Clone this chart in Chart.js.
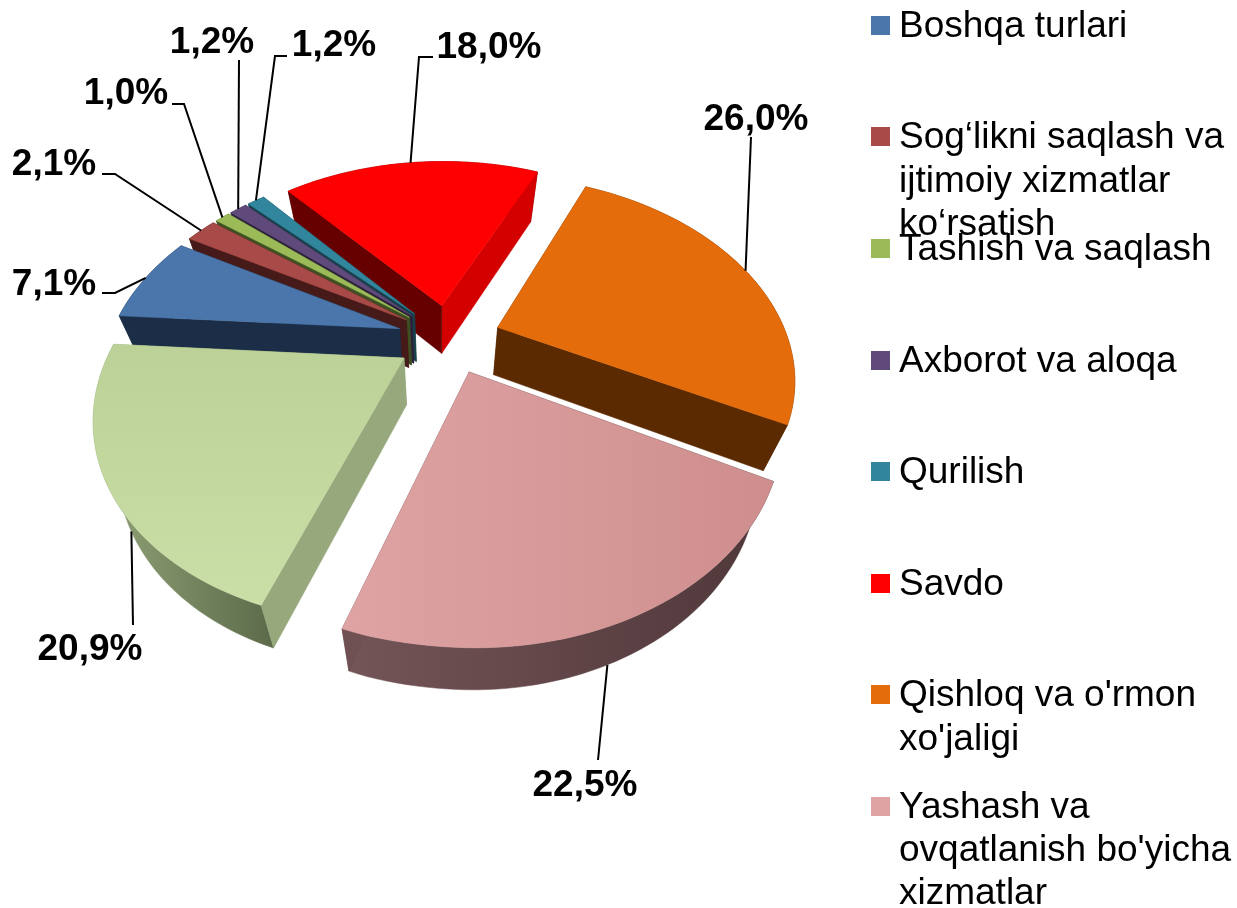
<!DOCTYPE html>
<html><head><meta charset="utf-8">
<style>html,body{margin:0;padding:0;background:#fff}#w{width:1237px;height:908px;position:relative}</style>
<script src="https://cdn.jsdelivr.net/npm/chart.js@4/dist/chart.umd.js"></script>
</head><body><div id="w"><canvas id="c"></canvas></div>
<script>
// ---- data ----
const categories = ["Boshqa turlari","Sog‘likni saqlash va ijtimoiy xizmatlar ko‘rsatish","Tashish va saqlash","Axborot va aloqa","Qurilish","Savdo","Qishloq va o'rmon xo'jaligi","Yashash va ovqatlanish bo'yicha xizmatlar",""];
const shares = [7.1,2.1,1.0,1.2,1.2,18.0,26.0,22.5,20.9];
// ---- styles ----
const explode = [75,75,75,75,75,75,75,75,75];
const topColors = ["#4a76ab","#a84a47","#9bbb59","#604a7b","#31859c","#ff0000","#e46c0a",["#dfa3a3","#cf8e8e"],["#bbd197","#cadfa7","v"]];
const startWall = ["#1c2e47","#451a18","#3e4f23","#2b2139","#17404b","#660000","#5c2a00","#533a3c","#97a97c"];
const endWall   = ["#1c2e47","#451a18","#3e4f23","#2b2139","#17404b","#d40000","#5c2a00","#6f5154","#97a97c"];
const outerWall = ["#1c2e47","#451a18","#3e4f23","#2b2139","#17404b","#660000","#5c2a00",["#745558","#4f3739"],["#93a578","#5c6a4a"]];
const legendLines = [["Boshqa turlari"],["Sog‘likni saqlash va","ijtimoiy xizmatlar","ko‘rsatish"],["Tashish va saqlash"],["Axborot va aloqa"],["Qurilish"],["Savdo"],["Qishloq va o'rmon","xo'jaligi"],["Yashash va","ovqatlanish bo'yicha","xizmatlar"]];
const legendBase = [[37],[148,192,235],[260],[372],[483],[595],[706,750],[818,861,904]];
const labelPos = [[54,295],[54,175],[126,104],[212,53],[334,56],[489,58],[756,130],[585,796],[90,660]];
const leaderElbow = [[[115,293],[102,293]],[[115,174],[102,174]],[[184,104],[172,104]],[[239,60]],[[275,56],[287,56]],[[419,57],[433,57]],[[751,137]],[[598,760]],[[133,625]]];

// perspective of the pie plane
const P = {cx:449, cy:338.5, a:290, b:192, p:.236, skew:6};
const project = (x,y)=>{const w=1-P.p*y;
  const sk=(x<0&&y>0)?P.skew*y*Math.min(1,-x/.2):0;
  return [P.cx+P.a*x/w-sk, P.cy+P.b*y/w];};
const drop = ([X,Y])=>[440+.93*(X-440), Y+53-.017*Y];

function geom(arc){
  const R=arc.outerRadius, off=arc.options.offset/R, s=arc.startAngle, e=arc.endAngle, m=(s+e)/2;
  const ox=Math.cos(m)*off, oy=Math.sin(m)*off;
  const pts=[]; const n=Math.max(2,Math.ceil((e-s)/(Math.PI/120)));
  for(let i=0;i<=n;i++){const t=s+(e-s)*i/n;pts.push(project(ox+Math.cos(t),oy+Math.sin(t)));}
  return {apex:project(ox,oy),pts,mid:project(ox+Math.cos(m),oy+Math.sin(m)),depth:oy+Math.sin(m)};
}
function poly(ctx,pts,fill){
  ctx.beginPath();pts.forEach((p,i)=>i?ctx.lineTo(p[0],p[1]):ctx.moveTo(p[0],p[1]));ctx.closePath();
  ctx.fillStyle=fill;ctx.fill();ctx.strokeStyle=fill;ctx.lineWidth=.5;ctx.stroke();
}
function paint(ctx,c,pts){
  if(!Array.isArray(c))return c;
  const vert=c[2]==='v';
  const vs=pts.map(p=>vert?p[1]:p[0]),v0=Math.min(...vs),v1=Math.max(...vs);
  const g=vert?ctx.createLinearGradient(0,v0,0,v1):ctx.createLinearGradient(v0,0,v1,0);
  g.addColorStop(0,c[0]);g.addColorStop(1,c[1]);return g;
}
const pie3d={id:'pie3d',
  beforeDatasetDraw(chart){
    const ctx=chart.ctx,arcs=chart.getDatasetMeta(0).data;
    const items=arcs.map((a,i)=>({i,g:geom(a)})).sort((u,v)=>u.g.depth-v.g.depth);
    items.forEach(({i,g})=>{
      const low=g.pts.map(drop),la=drop(g.apex);
      const curve=g.pts.concat(low.slice().reverse());
      poly(ctx,curve,paint(ctx,outerWall[i],curve));
      const f=g.pts[0],l=g.pts[g.pts.length-1];
      const wa=[g.apex,f,low[0],la],wb=[g.apex,l,low[low.length-1],la];
      const order=f[1]<l[1]?[[wa,startWall[i]],[wb,endWall[i]]]:[[wb,endWall[i]],[wa,startWall[i]]];
      order.forEach(([w,c])=>poly(ctx,w,c));
      const top=[g.apex].concat(g.pts);
      poly(ctx,top,paint(ctx,topColors[i],top));
    });
    // leader lines and value labels
    ctx.strokeStyle='#000';ctx.lineWidth=2;
    arcs.forEach((a,i)=>{
      const g=geom(a);const start=g.depth>.3?drop(g.mid):g.mid;
      ctx.beginPath();ctx.moveTo(start[0],start[1]);leaderElbow[i].forEach(p=>ctx.lineTo(p[0],p[1]));ctx.stroke();
    });
    ctx.fillStyle='#000';ctx.font='bold 37px "Liberation Sans"';ctx.textAlign='center';ctx.textBaseline='alphabetic';
    shares.forEach((v,i)=>ctx.fillText(v.toFixed(1).replace('.',',')+'%',labelPos[i][0],labelPos[i][1]));
    // legend
    ctx.textAlign='left';ctx.font='37px "Liberation Sans"';
    legendLines.forEach((lines,i)=>{
      const c=Array.isArray(topColors[i])?topColors[i][0]:topColors[i];
      ctx.fillStyle=c;ctx.fillRect(871,legendBase[i][0]-21,19,19);
      ctx.fillStyle='#000';
      lines.forEach((t,j)=>ctx.fillText(t,899,legendBase[i][j]));
    });
    return false;
  }};

new Chart(document.getElementById('c'),{
  type:'pie',
  data:{labels:categories,datasets:[{data:shares,backgroundColor:topColors.map(c=>Array.isArray(c)?c[0]:c),borderWidth:0,offset:explode,hoverOffset:0}]},
  options:{responsive:true,maintainAspectRatio:false,animation:false,rotation:274,layout:{padding:0},
    events:[],plugins:{legend:{display:false},tooltip:{enabled:false},title:{display:false}}},
  plugins:[pie3d]
});
</script></body></html>
